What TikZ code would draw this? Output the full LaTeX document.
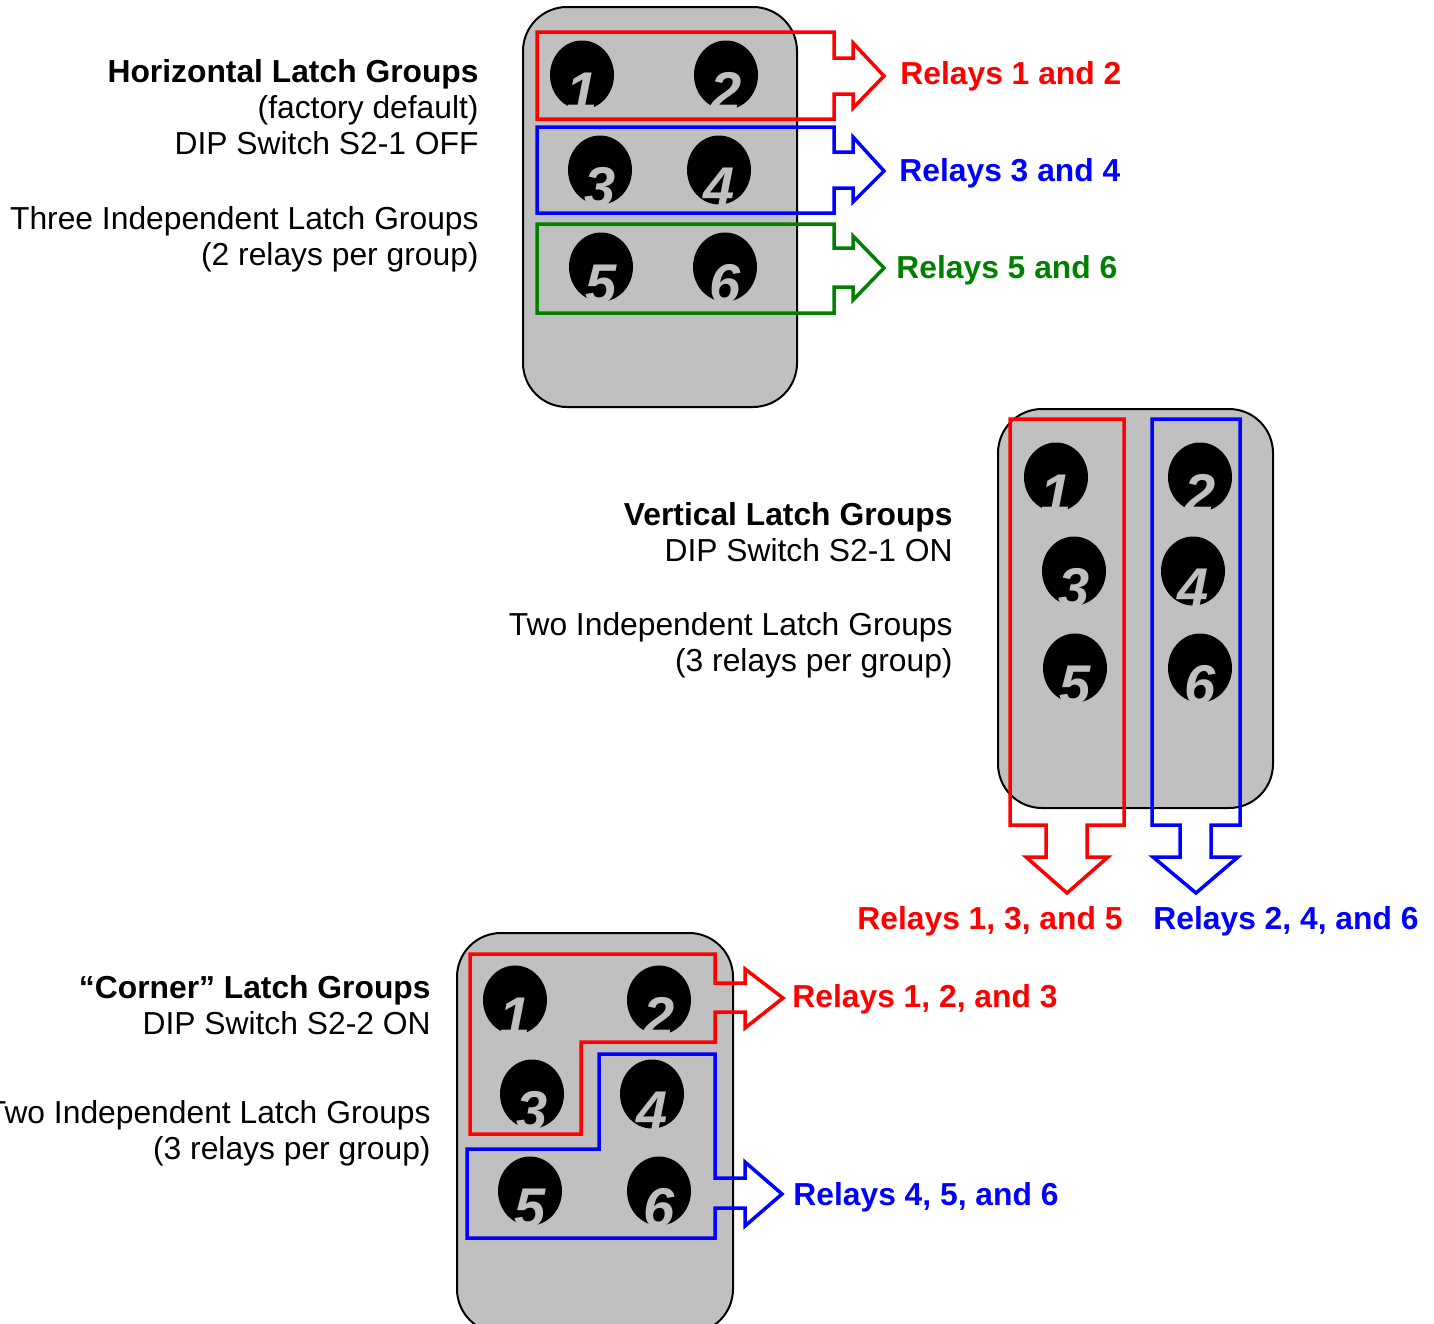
\documentclass[tikz,border=0pt]{standalone}
\usepackage{fontspec}
\setmainfont{Liberation Sans}
\usetikzlibrary{shapes.geometric}
\definecolor{panelgray}{RGB}{192,192,192}
\definecolor{groupgreen}{RGB}{0,128,0}

\begin{document}
\begin{tikzpicture}[x=0.5pt,y=-0.5pt,
   panel/.style={draw=black,line width=1pt,fill=panelgray,rounded corners=22pt},
   button/.style={ellipse,fill=black,inner sep=0pt,minimum width=32pt,minimum height=34.5pt},
   digit/.style={anchor=base,inner sep=0pt,text=panelgray,font=\fontsize{28}{28}\selectfont\bfseries\itshape},
   latchframe/.style={line width=1.75pt,line join=miter},
   caption/.style={anchor=base east,inner sep=0pt,font=\fontsize{15.9}{18}\selectfont},
   relay/.style={anchor=base west,inner sep=0pt,font=\fontsize{15.9}{18}\selectfont\bfseries}]

   \useasboundingbox (0,0) rectangle (1434,1323);
   \clip (0,0) rectangle (1434,1323);

   % horizontal groups
   \draw [panel] (523,7) rectangle (797,407);

   \node (h1) at (582,75) [button] {};
   \node (h2) at (726,75) [button] {};
   \node (h3) at (600,170) [button] {};
   \node (h4) at (719,170) [button] {};
   \node (h5) at (601,267) [button] {};
   \node (h6) at (725,267) [button] {};
   \node (h1-num) at ([yshift=-1pt]h1.south) [digit] {1};
   \node (h2-num) at ([yshift=-1pt]h2.south) [digit] {2};
   \node (h3-num) at ([yshift=-1pt]h3.south) [digit] {3};
   \node (h4-num) at ([yshift=-1pt]h4.south) [digit] {4};
   \node (h5-num) at ([yshift=-1pt]h5.south) [digit] {5};
   \node (h6-num) at ([yshift=-1pt]h6.south) [digit] {6};

   \draw [latchframe,red] (537,32) -- (834,32) -- (834,58) -- (853,58) -- (853,43) -- (884,76)
      -- (853,108) -- (853,94) -- (834,94) -- (834,119) -- (537,119) -- cycle;
   \draw [latchframe,blue] (537,127) -- (834,127) -- (834,152) -- (853,152) -- (853,137) -- (884,171)
      -- (853,202) -- (853,188) -- (834,188) -- (834,213) -- (537,213) -- cycle;
   \draw [latchframe,groupgreen] (537,224) -- (834,224) -- (834,248) -- (853,248) -- (853,236) -- (884,268)
      -- (853,300) -- (853,287) -- (834,287) -- (834,313) -- (537,313) -- cycle;

   \node (relays-12) at (900,84) [relay,text=red] {Relays 1 and 2};
   \node (relays-34) at (899,181) [relay,text=blue] {Relays 3 and 4};
   \node (relays-56) at (896,278) [relay,text=groupgreen] {Relays 5 and 6};

   \node (horizontal) at (479,82) [caption,font=\fontsize{15.9}{18}\selectfont\bfseries] {Horizontal Latch Groups};
   \node (factory-default) at (479,118) [caption] {(factory default)};
   \node (s21-off) at (479,154) [caption] {DIP Switch S2-1 OFF};
   \node (three-groups) at (479,229) [caption] {Three Independent Latch Groups};
   \node (two-per-group) at (479,265) [caption] {(2 relays per group)};

   % vertical groups
   \draw [panel] (998,409) rectangle (1273,808);

   \node (v1) at (1056,477) [button] {};
   \node (v2) at (1200,477) [button] {};
   \node (v3) at (1074,571) [button] {};
   \node (v4) at (1193,571) [button] {};
   \node (v5) at (1075,668) [button] {};
   \node (v6) at (1200,668) [button] {};
   \node (v1-num) at ([yshift=-1pt]v1.south) [digit] {1};
   \node (v2-num) at ([yshift=-1pt]v2.south) [digit] {2};
   \node (v3-num) at ([yshift=-1pt]v3.south) [digit] {3};
   \node (v4-num) at ([yshift=-1pt]v4.south) [digit] {4};
   \node (v5-num) at ([yshift=-1pt]v5.south) [digit] {5};
   \node (v6-num) at ([yshift=-1pt]v6.south) [digit] {6};

   \draw [latchframe,red] (1010,419) -- (1124,419) -- (1124,825) -- (1087,825) -- (1087,857) -- (1108,857)
      -- (1067,893) -- (1026,857) -- (1046,857) -- (1046,825) -- (1010,825) -- cycle;
   \draw [latchframe,blue] (1152,419) -- (1240,419) -- (1240,825) -- (1211,825) -- (1211,857) -- (1238,857)
      -- (1196,893) -- (1153,857) -- (1180,857) -- (1180,825) -- (1152,825) -- cycle;

   \node (relays-135) at (857,929) [relay,text=red] {Relays 1, 3, and 5};
   \node (relays-246) at (1153,929) [relay,text=blue] {Relays 2, 4, and 6};

   \node (vertical) at (953,525) [caption,font=\fontsize{15.9}{18}\selectfont\bfseries] {Vertical Latch Groups};
   \node (s21-on) at (953,561) [caption] {DIP Switch S2-1 ON};
   \node (two-groups-v) at (953,635) [caption] {Two Independent Latch Groups};
   \node (three-per-group-v) at (953,671) [caption] {(3 relays per group)};

   % corner groups
   \draw [panel] (457,933) rectangle (733,1333);

   \node (c1) at (515,1000) [button] {};
   \node (c2) at (659,1000) [button] {};
   \node (c3) at (532,1094) [button] {};
   \node (c4) at (652,1094) [button] {};
   \node (c5) at (530,1191) [button] {};
   \node (c6) at (659,1191) [button] {};
   \node (c1-num) at ([yshift=-1pt]c1.south) [digit] {1};
   \node (c2-num) at ([yshift=-1pt]c2.south) [digit] {2};
   \node (c3-num) at ([yshift=-1pt]c3.south) [digit] {3};
   \node (c4-num) at ([yshift=-1pt]c4.south) [digit] {4};
   \node (c5-num) at ([yshift=-1pt]c5.south) [digit] {5};
   \node (c6-num) at ([yshift=-1pt]c6.south) [digit] {6};

   \draw [latchframe,red] (470,954) -- (715,954) -- (715,983) -- (745,983) -- (745,969) -- (783,998)
      -- (745,1028) -- (745,1012) -- (715,1012) -- (715,1042) -- (581,1042) -- (581,1134) -- (470,1134) -- cycle;
   \draw [latchframe,blue] (599,1054) -- (715,1054) -- (715,1178) -- (745,1178) -- (745,1162) -- (782,1194)
      -- (745,1226) -- (745,1208) -- (715,1208) -- (715,1238) -- (467,1238) -- (467,1149) -- (599,1149) -- cycle;

   \node (relays-123) at (792,1007) [relay,text=red] {Relays 1, 2, and 3};
   \node (relays-456) at (793,1205) [relay,text=blue] {Relays 4, 5, and 6};

   \node (corner) at (431,998) [caption,font=\fontsize{15.9}{18}\selectfont\bfseries] {“Corner” Latch Groups};
   \node (s22-on) at (431,1034) [caption] {DIP Switch S2-2 ON};
   \node (two-groups-c) at (431,1123) [caption] {Two Independent Latch Groups};
   \node (three-per-group-c) at (431,1159) [caption] {(3 relays per group)};

\end{tikzpicture}
\end{document}
